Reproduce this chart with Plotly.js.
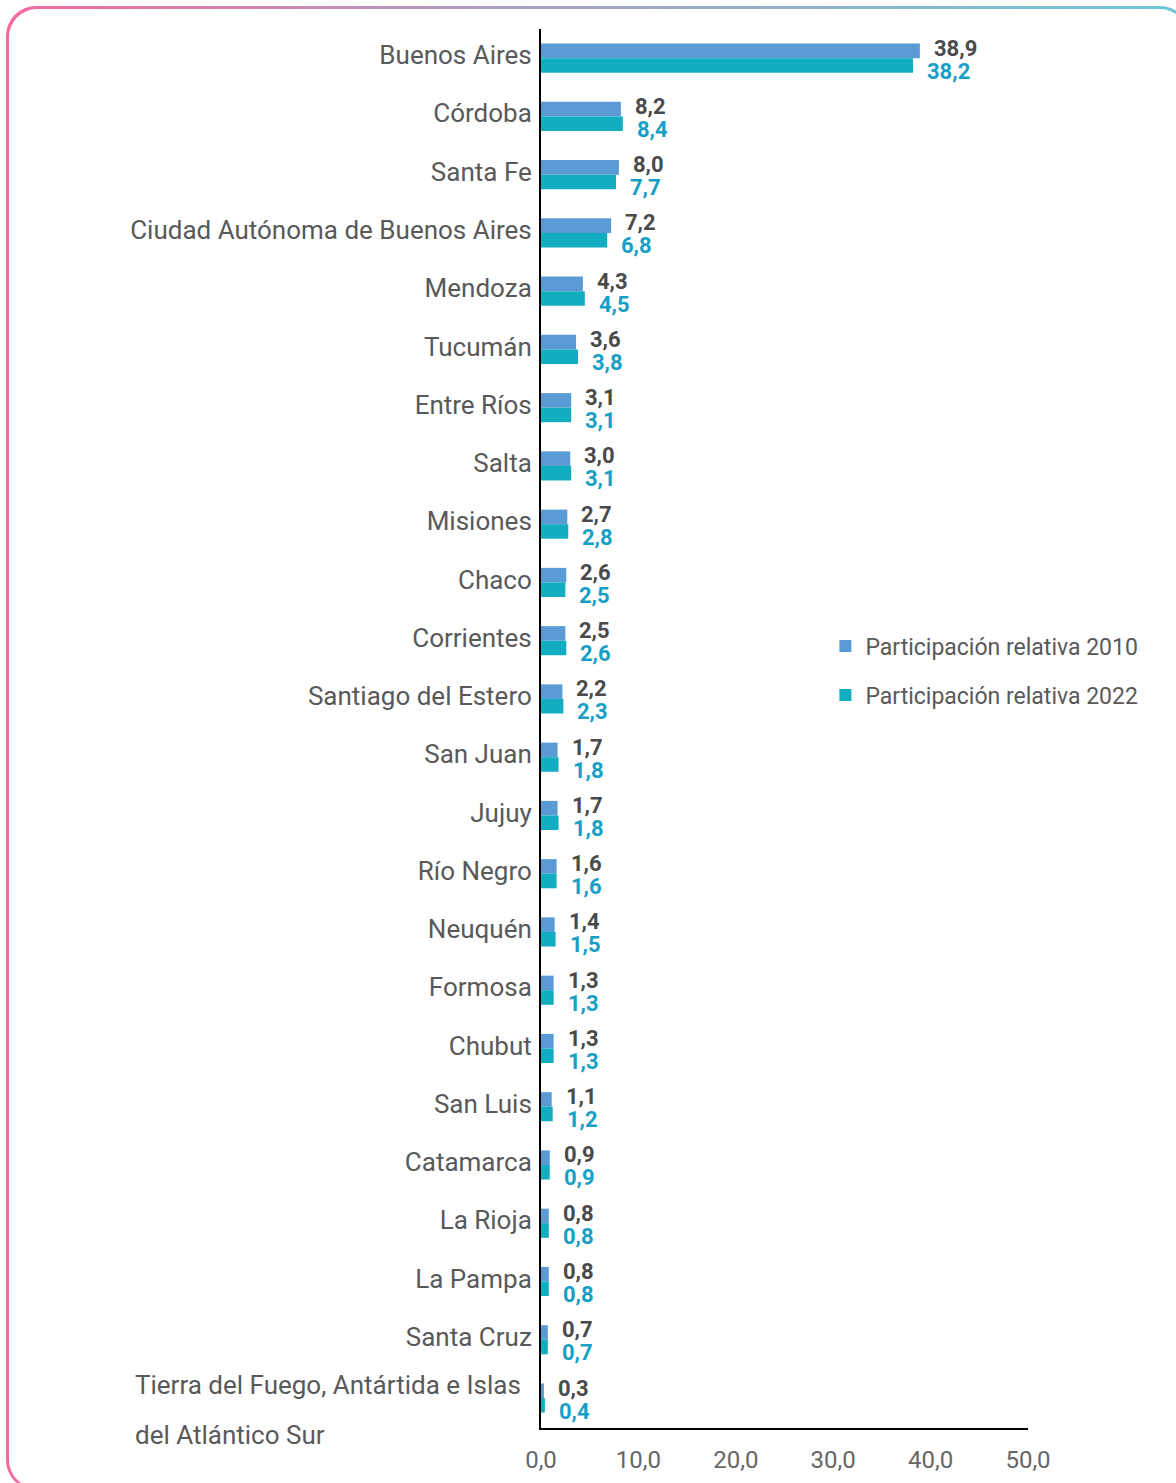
<!DOCTYPE html>
<html>
<head>
<meta charset="utf-8">
<script src="https://cdn.plot.ly/plotly-3.0.1.min.js"></script>
<style>
  html, body { margin: 0; padding: 0; width: 1176px; height: 1483px; overflow: hidden; background: #fff; }
  #frame { position: absolute; left: 6px; top: 6px; width: 1184px; height: 1484px; border-radius: 30px;
           background: linear-gradient(to right, #f56a9f 0%, #a7a3c4 45%, #6cc6d8 100%); }
  #inner { position: absolute; left: 2.5px; top: 2.5px; right: 2.5px; bottom: 2.5px; border-radius: 28px; background: #fff; }
  #chart { position: absolute; left: 0; top: 0; width: 1176px; height: 1483px; }
</style>
</head>
<body>
<div id="frame"><div id="inner"></div></div>
<div id="chart"></div>
<script>
const categories = ["Buenos Aires","Córdoba","Santa Fe","Ciudad Autónoma de Buenos Aires","Mendoza","Tucumán","Entre Ríos","Salta","Misiones","Chaco","Corrientes","Santiago del Estero","San Juan","Jujuy","Río Negro","Neuquén","Formosa","Chubut","San Luis","Catamarca","La Rioja","La Pampa","Santa Cruz","Tierra del Fuego, Antártida e Islas del Atlántico Sur"];
const tickLabels = ["Buenos Aires","Córdoba","Santa Fe","Ciudad Autónoma de Buenos Aires","Mendoza","Tucumán","Entre Ríos","Salta","Misiones","Chaco","Corrientes","Santiago del Estero","San Juan","Jujuy","Río Negro","Neuquén","Formosa","Chubut","San Luis","Catamarca","La Rioja","La Pampa","Santa Cruz",""];
const lastLabelLines = ["Tierra del Fuego, Antártida e Islas","del Atlántico Sur"];
const values2010 = [38.9,8.2,8.0,7.2,4.3,3.6,3.1,3.0,2.7,2.6,2.5,2.2,1.7,1.7,1.6,1.4,1.3,1.3,1.1,0.9,0.8,0.8,0.7,0.3];
const values2022 = [38.2,8.4,7.7,6.8,4.5,3.8,3.1,3.1,2.8,2.5,2.6,2.3,1.8,1.8,1.6,1.5,1.3,1.3,1.2,0.9,0.8,0.8,0.7,0.4];
const seriesNames = ["Participación relativa 2010","Participación relativa 2022"];
const xTicks = [0,10,20,30,40,50];

const FONT = "Roboto, 'Open Sans', sans-serif";
const c2010 = "#5b9bd5", c2022 = "#13adc2";
const lab2010 = "#4a4a4a", lab2022 = "#179fc6";
const fmt = v => v.toFixed(1).replace('.', ',');

const traces = [
  {type:'bar', orientation:'h', name:seriesNames[0], x:values2010, y:categories, marker:{color:c2010}, legendgroup:'a', hoverinfo:'x+y'},
  {type:'bar', orientation:'h', name:seriesNames[1], x:values2022, y:categories, marker:{color:c2022}, legendgroup:'b', hoverinfo:'x+y'}
];

const annotations = [];
categories.forEach((c, i) => {
  annotations.push({x:values2010[i], y:c, xref:'x', yref:'y', text:fmt(values2010[i]), showarrow:false,
    xanchor:'left', yanchor:'middle', xshift:12, yshift:10, font:{family:FONT, size:22, color:lab2010, weight:700}});
  annotations.push({x:values2022[i], y:c, xref:'x', yref:'y', text:fmt(values2022[i]), showarrow:false,
    xanchor:'left', yanchor:'middle', xshift:12, yshift:-13, font:{family:FONT, size:22, color:lab2022, weight:700}});
});
const lastCat = categories[categories.length-1];
annotations.push({x:(131-540)/488, y:lastCat, xref:'paper', yref:'y', text:lastLabelLines[0], showarrow:false,
  xanchor:'left', yanchor:'middle', yshift:13, font:{family:FONT, size:26, color:'#595959'}});
annotations.push({x:(131-540)/488, y:lastCat, xref:'paper', yref:'y', text:lastLabelLines[1], showarrow:false,
  xanchor:'left', yanchor:'middle', yshift:-37, font:{family:FONT, size:26, color:'#595959'}});

const layout = {
  width:1176, height:1483,
  margin:{l:541, r:148, t:29, b:55},
  paper_bgcolor:'rgba(0,0,0,0)', plot_bgcolor:'rgba(0,0,0,0)',
  separators:',.',
  barmode:'group', bargap:0.5, bargroupgap:0,
  font:{family:FONT, color:'#595959'},
  xaxis:{range:[0,50], tickvals:xTicks, tickformat:'.1f', showgrid:false, zeroline:false,
    showline:true, linecolor:'#000', linewidth:2, ticks:'', ticklabelstandoff:9, tickfont:{family:FONT, size:24, color:'#666'}, fixedrange:true},
  yaxis:{type:'category', autorange:'reversed', tickvals:categories, ticktext:tickLabels, showgrid:false, zeroline:false,
    showline:true, linecolor:'#000', linewidth:2, ticks:'', ticklabelstandoff:2, ticklabelshift:3, tickfont:{family:FONT, size:26, color:'#595959'}, fixedrange:true},
  legend:{x:0.584, y:0.5743, xanchor:'left', yanchor:'top', tracegroupgap:16, itemwidth:30,
    font:{family:FONT, size:23, color:'#595959'}, bgcolor:'rgba(0,0,0,0)'},
  annotations:annotations,
  showlegend:true
};

Plotly.newPlot('chart', traces, layout, {displayModeBar:false, staticPlot:true});
</script>
</body>
</html>
